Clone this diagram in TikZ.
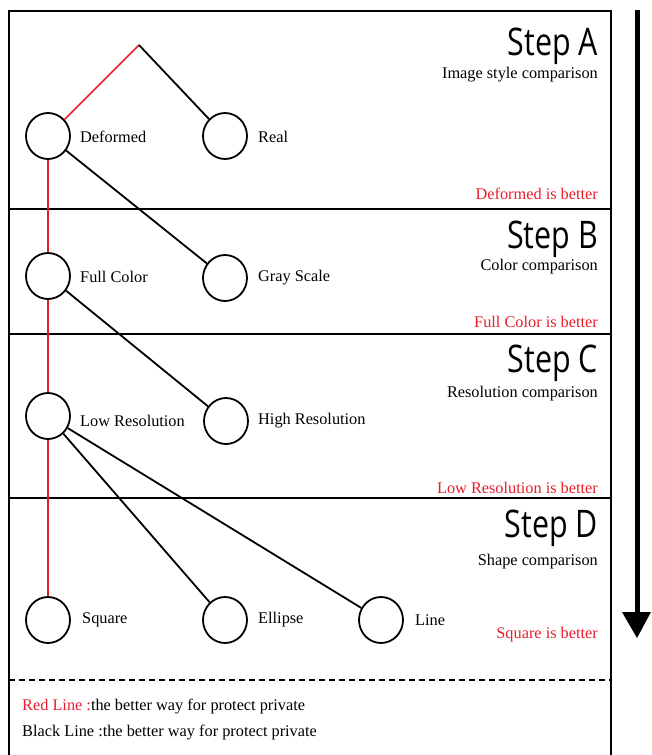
\documentclass[tikz,border=0pt]{standalone}
\usepackage{fontspec}
\setmainfont{Liberation Serif}
\newfontfamily\headfont{Open Sans}
\usetikzlibrary{shapes.geometric}
\definecolor{better}{RGB}{232,30,45}
\begin{document}
\begin{tikzpicture}[x=1pt,y=-1pt,
  choice/.style={draw,ellipse,line width=1.8pt,minimum width=44pt,minimum height=46pt,inner sep=0pt},
  lbl/.style={anchor=west,inner sep=0pt,font=\fontsize{16.3}{19}\selectfont},
  steptitle/.style={anchor=base east,inner sep=0pt,font=\headfont\fontsize{38}{44}\selectfont,xscale=0.8},
  subtitle/.style={anchor=base east,inner sep=0pt,font=\fontsize{16.3}{19}\selectfont},
  verdict/.style={anchor=base east,inner sep=0pt,text=better,font=\fontsize{16.3}{19}\selectfont},
  legend/.style={anchor=base west,inner sep=0pt,font=\fontsize{16.3}{19}\selectfont},
  win/.style={draw=better,line width=1.6pt},
  lose/.style={draw=black,line width=1.8pt},
  divider/.style={line width=1.5pt}]
\useasboundingbox (0,0) rectangle (651,755);

% frame and section dividers
\draw[line width=1.6pt] (9,760) -- (9,11) -- (611,11) -- (611,760);
\draw[divider] (9,209) -- (611,209);
\draw[divider] (9,334) -- (611,334);
\draw[divider] (9,498) -- (611,498);
\draw[line width=1.4pt,dash pattern=on 6pt off 4pt] (9,680) -- (611,680);

% direction arrow
\coordinate (arrtop) at (637,10);
\coordinate (arrbase) at (637,612);
\coordinate (arrtip) at (637,638);
\draw[line width=5pt] (arrtop) -- (arrbase);
\fill (622,612) -- (651,612) -- (arrtip) -- cycle;

% section headings
\node[steptitle] (ta) at (598,55) {Step A};
\node[subtitle] (sa) at (598,78) {Image style comparison};
\node[verdict] (va) at (598,199) {Deformed is better};

\node[steptitle] (tb) at (598,248) {Step B};
\node[subtitle] (sb) at (598,270) {Color comparison};
\node[verdict] (vb) at (598,327) {Full Color is better};

\node[steptitle] (tc) at (598,372) {Step C};
\node[subtitle] (sc) at (598,397) {Resolution comparison};
\node[verdict] (vc) at (598,493) {Low Resolution is better};

\node[steptitle] (td) at (598,537) {Step D};
\node[subtitle] (sd) at (598,565) {Shape comparison};
\node[verdict] (vd) at (598,638) {Square is better};

% choices
\coordinate (root) at (139,45);
\node[choice] (def) at (48,136) {};
\node[choice] (real) at (225,136) {};
\node[choice] (full) at (48,276) {};
\node[choice] (gray) at (225,278) {};
\node[choice] (low) at (48,416) {};
\node[choice] (high) at (226,421) {};
\node[choice] (sq) at (48,620) {};
\node[choice] (ell) at (225,620) {};
\node[choice] (ln) at (381,620) {};

\node[lbl] (ldef) at (80,137) {Deformed};
\node[lbl] (lreal) at (258,137) {Real};
\node[lbl] (lfull) at (80,277) {Full Color};
\node[lbl] (lgray) at (258,278) {Gray Scale};
\node[lbl] (llow) at (80,421) {Low Resolution};
\node[lbl] (lhigh) at (258,421) {High Resolution};
\node[lbl] (lsq) at (82,620) {Square};
\node[lbl] (lell) at (258,620) {Ellipse};
\node[lbl] (lln) at (415,620) {Line};

% connectors
\draw[win] (root) -- (def);
\draw[lose] (root) -- (real);
\draw[win] (def.south) -- (full.north);
\draw[win] (full.south) -- (low.north);
\draw[win] (low.south) -- (sq.north);
\draw[lose] (def) -- (gray);
\draw[lose] (full) -- (high);
\draw[lose] (low) -- (ell);
\draw[lose] (low) -- (ln);

% legend
\node[legend] (kred) at (22,710) {\textcolor{better}{Red Line :}the better way for protect private};
\node[legend] (kblack) at (22,736) {Black Line :the better way for protect private};
\end{tikzpicture}
\end{document}
